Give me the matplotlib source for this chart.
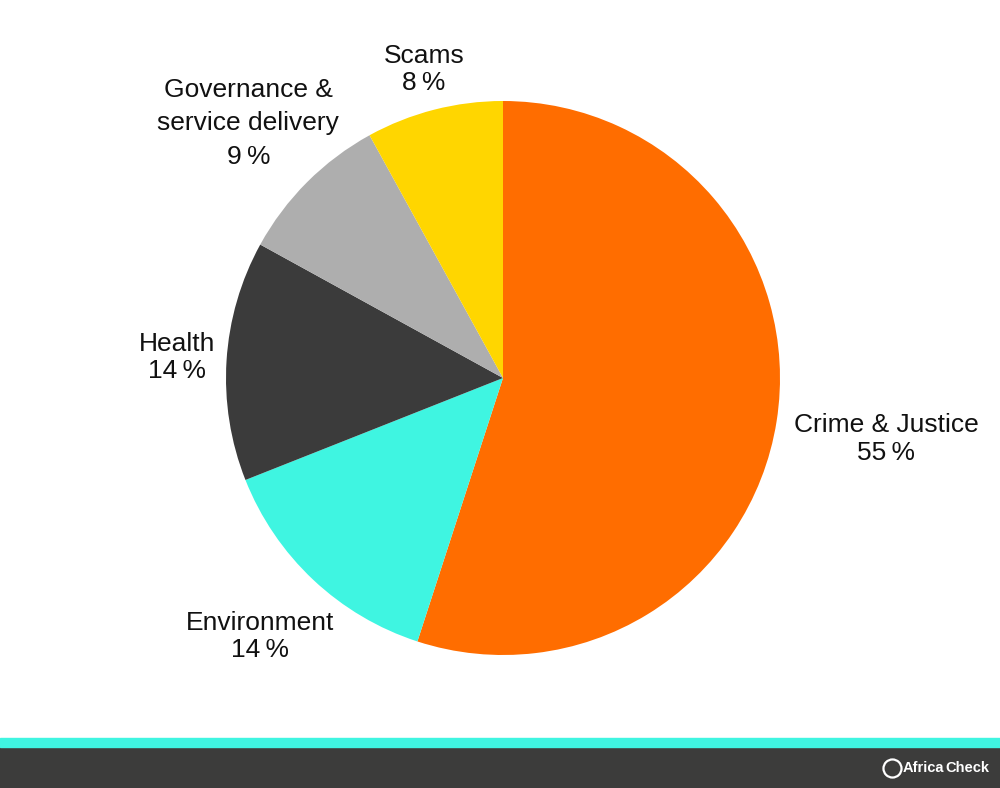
import numpy as np
import matplotlib
matplotlib.use("Agg")
import matplotlib.pyplot as plt
from matplotlib.patches import Rectangle

# slice data, clockwise from 12 o'clock
categories = ["Crime & Justice", "Environment", "Health", "Governance &\nservice delivery", "Scams"]
shares = [55, 14, 14, 9, 8]
colors = ["#ff6d00", "#3ff5e1", "#3b3b3b", "#aeaeae", "#ffd600"]

# label layout (distance from centre in radii, line spacing)
label_r = [1.40, 1.28, 1.18, 1.30, 1.15]
label_ls = [1.2, 1.2, 1.2, 1.5, 1.2]

plt.rcParams["font.family"] = ["Liberation Sans", "DejaVu Sans"]

fig = plt.figure(figsize=(10, 7.88), dpi=100)
fig.patch.set_facecolor("white")

# pie axes: centre (503, 378) px, radius 277 px
R = 277
cx, cy = 503, 378
ax = fig.add_axes([(cx - R) / 1000, (788 - cy - R) / 788, 2 * R / 1000, 2 * R / 788])
wedges, _ = ax.pie(shares, colors=colors, startangle=90, counterclock=False,
                   radius=1.0, wedgeprops=dict(linewidth=0))
ax.set_xlim(-1, 1)
ax.set_ylim(-1, 1)
ax.set_aspect("auto")
ax.axis("off")

for w, name, pct, r, ls in zip(wedges, categories, shares, label_r, label_ls):
    mid = np.deg2rad((w.theta1 + w.theta2) / 2)
    ax.text(r * np.cos(mid), r * np.sin(mid), f"{name}\n{pct}\u2009%",
            ha="center", va="center", fontsize=19, color="#111111",
            linespacing=ls, multialignment="center", clip_on=False)

# footer bands
fig.patches.append(Rectangle((0, 0), 1, 41 / 788, transform=fig.transFigure,
                             color="#3c3c3b", zorder=0))
fig.patches.append(Rectangle((0, 41 / 788), 1, 9 / 788, transform=fig.transFigure,
                             color="#3ff5e1", zorder=0))

# logo
fig.lines.append(plt.Line2D([892 / 1000], [20 / 788], transform=fig.transFigure,
                            marker="o", markersize=13, markerfacecolor="none",
                            markeredgecolor="white", markeredgewidth=1.6))
fig.text(903 / 1000, 20 / 788, "Africa", color="white", fontsize=10.5,
         fontweight="bold", ha="left", va="center")
fig.text(945 / 1000, 20 / 788, "Check", color="white", fontsize=10.5,
         fontweight="bold", ha="left", va="center")

fig.savefig("out.png", dpi=100, facecolor="white")
